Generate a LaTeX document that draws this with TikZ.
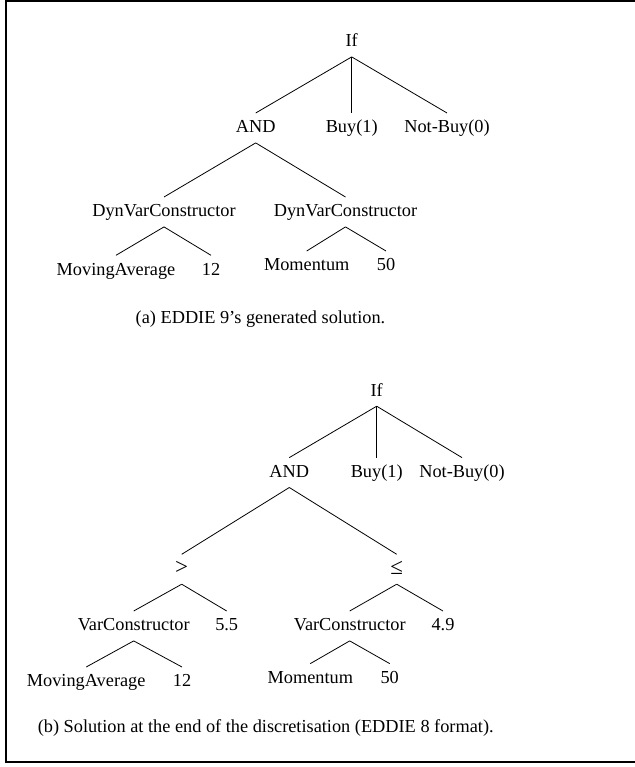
\documentclass[tikz,border=0pt]{standalone}
\usepackage{fontspec}
\setmainfont{Liberation Serif}
\begin{document}
\begin{tikzpicture}[x=1pt,y=-1pt,
  t/.style={font=\fontsize{18.3}{22}\selectfont, anchor=base, inner xsep=1pt, inner ysep=6.5pt, text height=13pt, text depth=3.5pt},
  rel/.style={t, font=\fontsize{23}{26}\selectfont},
  captxt/.style={font=\fontsize{18.3}{22}\selectfont, anchor=base, inner sep=0pt},
  e/.style={line width=0.8pt}]
\useasboundingbox (0,0) rectangle (634,767);
\draw[line width=2pt] (6,1.5) rectangle (645,762);
% (a)
\node[t] (a0) at (351.7,46.7) {If};
\node[t] (a1) at (255.7,132.7) {AND};
\node[t] (a2) at (351.7,132.7) {Buy(1)};
\node[t] (a3) at (447,132.7) {Not-Buy(0)};
\node[t] (a4) at (164,216.7) {DynVarConstructor};
\node[t] (a5) at (345.5,216.7) {DynVarConstructor};
\node[t] (a6) at (116,275) {MovingAverage};
\node[t] (a7) at (211,275) {12};
\node[t] (a8) at (306.7,270.7) {Momentum};
\node[t] (a9) at (386,270.7) {50};
\node[captxt] (ca) at (260.5,323.3) {(a) EDDIE 9’s generated solution.};
\draw[e] (a0.south) -- (a1.north);
\draw[e] (a0.south) -- (a2.north);
\draw[e] (a0.south) -- (a3.north);
\draw[e] (a1.south) -- (a4.north);
\draw[e] (a1.south) -- (a5.north);
\draw[e] (a4.south) -- (a6.north);
\draw[e] (a4.south) -- (a7.north);
\draw[e] (a5.south) -- (a8.north);
\draw[e] (a5.south) -- (a9.north);
% (b)
\node[t] (b0) at (376.7,396) {If};
\node[t] (b1) at (289.3,477.3) {AND};
\node[t] (b2) at (376.7,477.3) {Buy(1)};
\node[t] (b3) at (462,477.3) {Not-Buy(0)};
\node[rel] (b4) at (181.7,574) {>};
\node[rel] (b5) at (396.7,574) {≤};
\node[t] (b6) at (133.7,630.7) {VarConstructor};
\node[t] (b7) at (226.7,630.7) {5.5};
\node[t] (b8) at (349.7,630.7) {VarConstructor};
\node[t] (b9) at (443,630.7) {4.9};
\node[t] (b10) at (86.2,686.7) {MovingAverage};
\node[t] (b11) at (182,686.7) {12};
\node[t] (b12) at (310.3,683.3) {Momentum};
\node[t] (b13) at (389.7,683.3) {50};
\node[captxt] (cb) at (265.7,732.7) {(b) Solution at the end of the discretisation (EDDIE 8 format).};
\draw[e] (b0.south) -- (b1.north);
\draw[e] (b0.south) -- (b2.north);
\draw[e] (b0.south) -- (b3.north);
\draw[e] (b1.south) -- (b4.north);
\draw[e] (b1.south) -- (b5.north);
\draw[e] (b4.south) -- (b6.north);
\draw[e] (b4.south) -- (b7.north);
\draw[e] (b5.south) -- (b8.north);
\draw[e] (b5.south) -- (b9.north);
\draw[e] (b6.south) -- (b10.north);
\draw[e] (b6.south) -- (b11.north);
\draw[e] (b8.south) -- (b12.north);
\draw[e] (b8.south) -- (b13.north);
\end{tikzpicture}
\end{document}
